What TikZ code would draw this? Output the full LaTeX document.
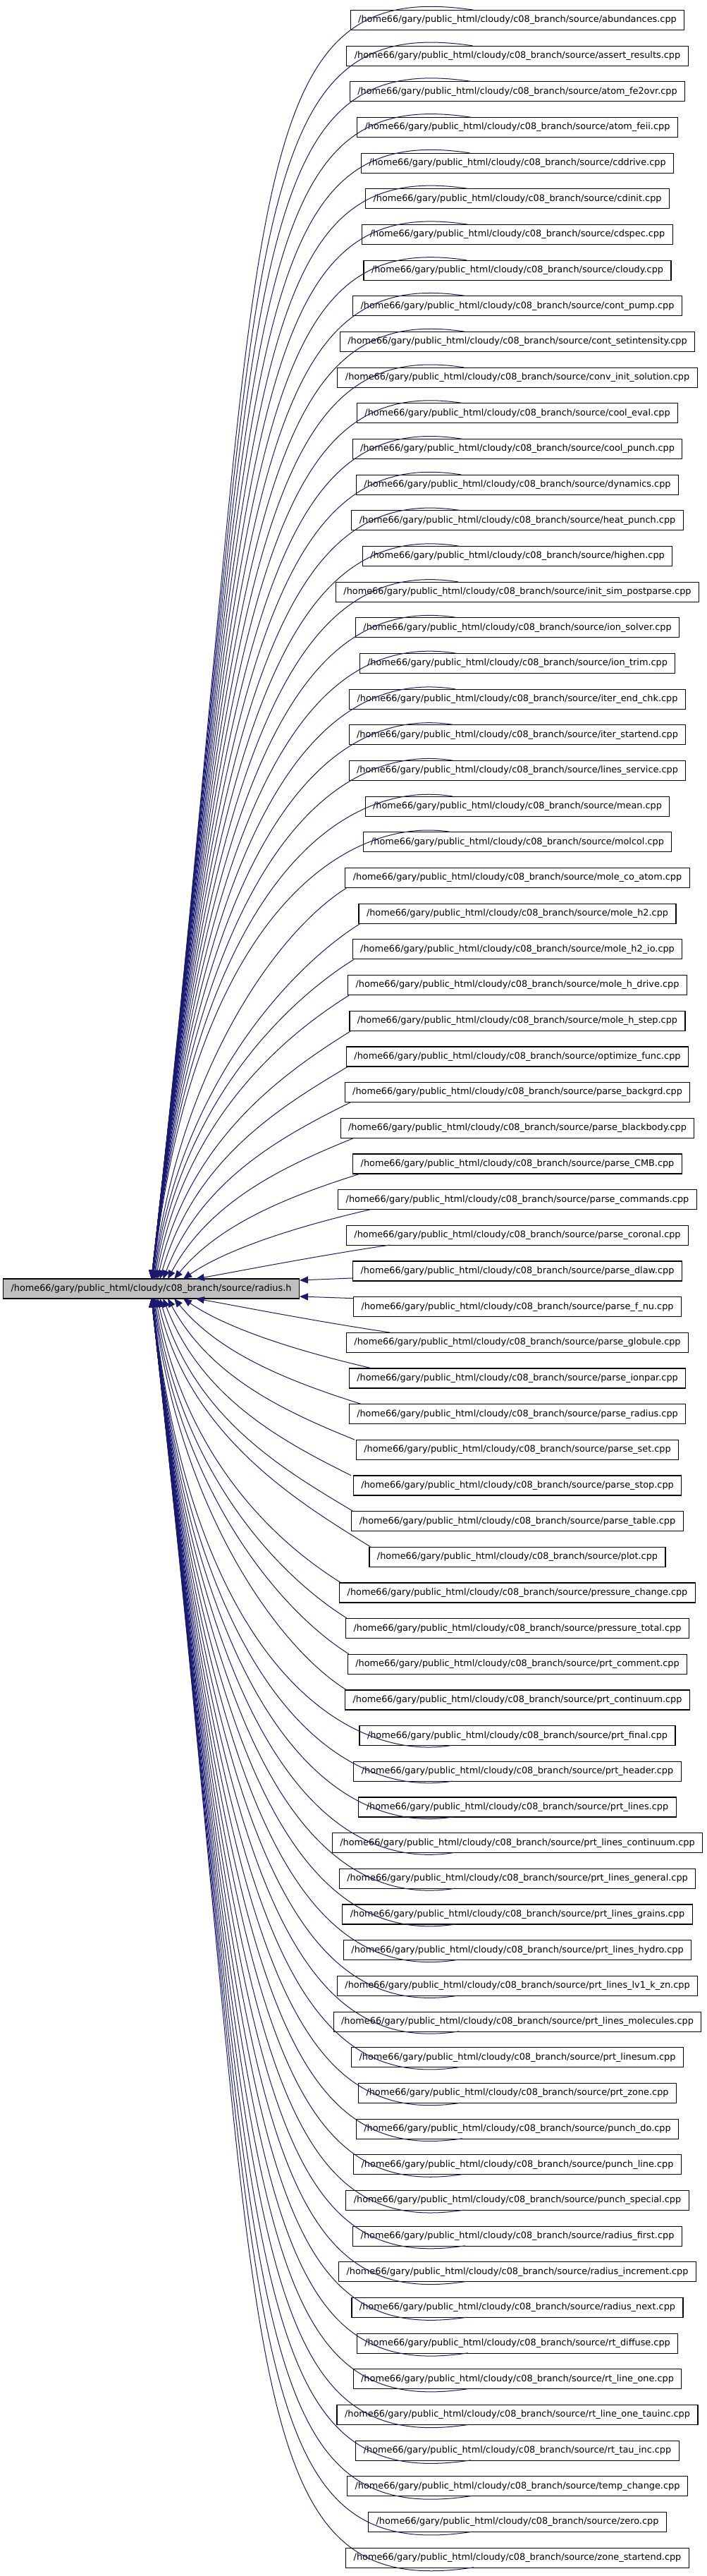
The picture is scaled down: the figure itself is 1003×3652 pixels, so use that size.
\documentclass[tikz,border=0pt]{standalone}
\usepackage{fontspec}
\setmainfont{DejaVu Sans}
\usetikzlibrary{arrows.meta,calc}
\definecolor{inclblue}{RGB}{25,25,112}
\definecolor{headgray}{RGB}{191,191,191}
\newcommand{\srcdir}{/home66/gary/public\_html/cloudy/c08\_branch/source/}
\tikzset{
  filebox/.style={draw=black, line width=1.1pt, fill=white,
                  minimum height=28pt, inner xsep=11pt, inner ysep=0pt,
                  font=\fontsize{12.85}{15}\selectfont},
  headbox/.style={filebox, fill=headgray},
  incl/.style={inclblue, line width=1pt,
               -{Triangle[length=12pt,width=10pt]}},
}

\begin{document}
\begin{tikzpicture}[x=1pt,y=-1pt]
  \useasboundingbox (0,0) rectangle (1003,3652);

  % the included header
  \node[headbox] (radius) at (214.5,1827) {\srcdir radius.h};

  % the files that include it
  \foreach \f [count=\i] in {abundances, assert\_results, atom\_fe2ovr,
      atom\_feii, cddrive, cdinit, cdspec, cloudy, cont\_pump,
      cont\_setintensity, conv\_init\_solution, cool\_eval, cool\_punch,
      dynamics, heat\_punch, highen, init\_sim\_postparse, ion\_solver,
      ion\_trim, iter\_end\_chk, iter\_startend, lines\_service, mean,
      molcol, mole\_co\_atom, mole\_h2, mole\_h2\_io, mole\_h\_drive,
      mole\_h\_step, optimize\_func, parse\_backgrd, parse\_blackbody,
      parse\_CMB, parse\_commands, parse\_coronal, parse\_dlaw,
      parse\_f\_nu, parse\_globule, parse\_ionpar, parse\_radius,
      parse\_set, parse\_stop, parse\_table, plot, pressure\_change,
      pressure\_total, prt\_comment, prt\_continuum, prt\_final,
      prt\_header, prt\_lines, prt\_lines\_continuum, prt\_lines\_general,
      prt\_lines\_grains, prt\_lines\_hydro, prt\_lines\_lv1\_k\_zn,
      prt\_lines\_molecules, prt\_linesum, prt\_zone, punch\_do,
      punch\_line, punch\_special, radius\_first, radius\_increment,
      radius\_next, rt\_diffuse, rt\_line\_one, rt\_line\_one\_tauinc,
      rt\_tau\_inc, temp\_change, zero, zone\_startend}
    \node[filebox] (n\i) at (734,{28.5+(\i-1)*50.67}) {\srcdir\f.cpp};

  % the two middle files reach the right end of the header
  \draw[incl] ($(n36.west)+(0,10)$) -- ($(radius.east)+(0,-12)$);
  \draw[incl] ($(n37.west)+(0,-12)$) -- ($(radius.east)+(0,11)$);

  % all the others fan in over the top and the bottom of the header
  \foreach \i in {1,...,72} {
    \pgfmathtruncatemacro\j{\i<37 ? 36-\i : \i-37}
    \pgfmathsetmacro\s{\i<37 ? -1 : 1}
    \ifnum\j>0
      \pgfmathsetmacro\hx{215+45*exp(-(\j-2)/3)}
      \pgfmathsetmacro\hy{1827+14*\s}
      \pgfmathsetmacro\yc{1827+\s*(25.33+50.67*\j)}
      \ifnum\j<12
        % near side of the box
        \pgfmathsetmacro\ey{\yc-14*\s}
        \ifnum\j<6
          \pgfmathsetmacro\ex{{553,527,512,503,498}[\j-1]}
          \coordinate (e) at (\ex,\ey);
        \else
          \pgfmathsetmacro\ex{500}
          \ifnum\i<37 \def\cor{south west}\else\def\cor{north west}\fi
          \coordinate (e) at ($(n\i.\cor)+(2,0)$);
        \fi
        \pgfmathsetmacro\al{84-74*exp(-(\j-1)/2.5)}
        \pgfmathsetmacro\th{min(32,4+4.5*\j)}
        \pgfmathsetmacro\dy{abs(\ey-\hy)}
        \pgfmathsetmacro\dx{\ex-\hx}
        \pgfmathsetmacro\la{0.5*\dy+0.1*\dx}
        \pgfmathsetmacro\lb{0.4*\dx}
        \coordinate (p1) at ({\hx+\la*cos(\al)},{\hy+\s*\la*sin(\al)});
        \coordinate (p2) at ($(e)+({-\lb*cos(\th)},{-\s*\lb*sin(\th)})$);
      \else
        % far side of the box, the curve arcs over it
        \pgfmathsetmacro\ey{\yc+14*\s}
        \pgfmathsetmacro\ex{642+1.36*(\j-13)}
        \coordinate (e) at (\ex,\ey);
        \pgfmathsetmacro\dy{abs(\ey-\hy)}
        \coordinate (p1) at ({\hx+0.093*\dy},{\hy+\s*0.83*\dy});
        \coordinate (p2) at ({\ex-0.18*\dy-30},{\ey+\s*(0.025*\dy+8)});
      \fi
      \coordinate (h) at (\hx,\hy);
      \draw[incl] (e) .. controls (p2) and (p1) .. (h);
    \fi
  }
\end{tikzpicture}
\end{document}
